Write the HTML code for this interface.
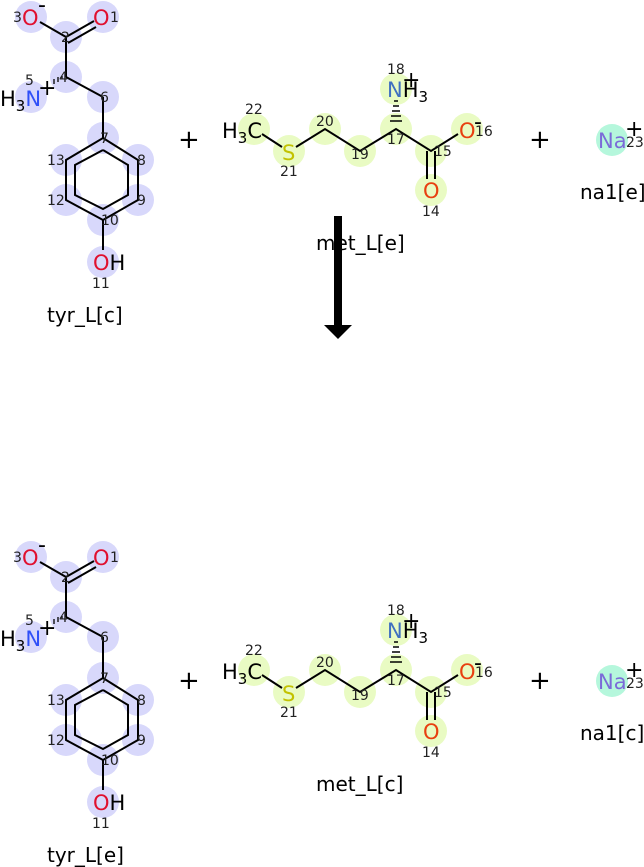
<!DOCTYPE html>
<html><head><meta charset="utf-8"><style>
html,body{margin:0;padding:0;background:#fff}
svg{display:block}
text{font-family:"DejaVu Sans","Liberation Sans",sans-serif}
</style></head><body>
<svg width="644" height="867" viewBox="0 0 644 867" xmlns="http://www.w3.org/2000/svg">
<g id="T1">
  <g fill="#d8d8fb">
    <circle cx="31" cy="17" r="16"/><circle cx="103" cy="17" r="16"/><circle cx="66" cy="37" r="16"/>
    <circle cx="66" cy="77" r="16"/><circle cx="31" cy="97" r="16"/><circle cx="103" cy="97" r="16"/>
    <circle cx="103" cy="138" r="16"/><circle cx="138" cy="160" r="16"/><circle cx="138" cy="200" r="16"/>
    <circle cx="103" cy="220" r="16"/><circle cx="66" cy="200" r="16"/><circle cx="66" cy="160" r="16"/>
    <circle cx="103" cy="262" r="16"/>
  </g>
  <g stroke="#000" stroke-width="2" fill="none">
    <line x1="40" y1="22" x2="66" y2="37"/>
    <line x1="66" y1="37" x2="94" y2="21"/><line x1="68" y1="43" x2="96" y2="27"/>
    <line x1="66" y1="37" x2="66" y2="77"/>
    <line x1="66" y1="77" x2="103" y2="97"/>
    <line x1="103" y1="97" x2="103" y2="138"/>
    <polygon points="103,138 138,160 138,200 103,220 66,200 66,160"/>
    <polyline points="103,150 128,165 128,195 103,209 75,195 75,165 103,150"/>
    <line x1="103" y1="220" x2="103" y2="250"/>
  </g>
  <g stroke="#000" stroke-width="1.3">
    <line x1="62" y1="79" x2="62" y2="76"/><line x1="58" y1="82" x2="58" y2="77"/><line x1="54" y1="84" x2="54" y2="79"/>
  </g>
  <text font-size="21" x="22" y="25" fill="#e0102f">O</text><text font-size="21" x="93" y="25" fill="#e0102f">O</text>
  <text font-size="21" x="0" y="106" fill="#000">H<tspan font-size="15" dy="5">3</tspan><tspan fill="#3050f8" dy="-5">N</tspan></text>
  <text font-size="21" x="93" y="270" fill="#e0102f">O<tspan fill="#000">H</tspan></text>
  <text font-size="22" x="38" y="95" fill="#000">+</text>
  <text font-size="22" x="38" y="12" fill="#000">-</text>
  <g font-size="14" fill="#222">
    <text x="13" y="22">3</text><text x="110" y="22">1</text><text x="61" y="42">2</text>
    <text x="59" y="82">4</text><text x="25" y="85">5</text><text x="100" y="102">6</text>
    <text x="100" y="143">7</text><text x="137" y="165">8</text><text x="137" y="205">9</text>
    <text x="101" y="225">10</text><text x="47" y="205">12</text><text x="47" y="165">13</text>
    <text x="92" y="288">11</text>
  </g>
</g>
<g id="M1">
  <g fill="#e9fbc3">
    <circle cx="254" cy="129" r="16"/><circle cx="289" cy="151" r="16"/><circle cx="325" cy="129" r="16"/>
    <circle cx="360" cy="151" r="16"/><circle cx="396" cy="129" r="16"/><circle cx="396" cy="89" r="16"/>
    <circle cx="431" cy="151" r="16"/><circle cx="467" cy="129" r="16"/><circle cx="431" cy="190" r="16"/>
  </g>
  <g stroke="#000" stroke-width="2" fill="none">
    <polyline points="262,134 282,147"/><polyline points="296,147 325,129 360,151 396,129 431,151 458,134"/>
    <line x1="427" y1="151" x2="427" y2="179"/><line x1="435" y1="151" x2="435" y2="179"/>
  </g>
  <g stroke="#000" stroke-width="1.5">
    <line x1="394" y1="101" x2="398" y2="101"/><line x1="393" y1="106" x2="399" y2="106"/>
    <line x1="392" y1="111" x2="400" y2="111"/><line x1="391" y1="116" x2="401" y2="116"/>
    <line x1="390" y1="121" x2="402" y2="121"/>
  </g>
  <text font-size="21" x="222" y="138" fill="#000">H<tspan font-size="15" dy="5">3</tspan><tspan dy="-5">C</tspan></text>
  <text font-size="21" x="282" y="160" fill="#c2c200">S</text>
  <text font-size="21" x="387" y="97" fill="#4070c0">N<tspan fill="#000">H</tspan><tspan fill="#000" font-size="15" dy="5">3</tspan></text>
  <text font-size="22" x="402" y="87" fill="#000">+</text>
  <text font-size="21" x="459" y="138" fill="#e84010">O</text>
  <text font-size="21" x="423" y="198" fill="#e84010">O</text>
  <text font-size="22" x="474" y="129" fill="#000">-</text>
  <g font-size="14" fill="#222">
    <text x="245" y="114">22</text><text x="280" y="176">21</text><text x="316" y="126">20</text>
    <text x="351" y="159">19</text><text x="387" y="144">17</text><text x="387" y="74">18</text>
    <text x="434" y="156">15</text><text x="475" y="136">16</text><text x="422" y="216">14</text>
  </g>
  <circle cx="612" cy="140" r="16" fill="#b5f7dc"/>
  <text font-size="21" x="598" y="148" fill="#7b6bd8">Na</text>
  <text font-size="22" x="625" y="136" fill="#000">+</text>
  <text font-size="14" x="626" y="147" fill="#222">23</text>
  <text font-size="26" x="178" y="148" fill="#000">+</text>
  <text font-size="26" x="529" y="148" fill="#000">+</text>
</g>
<g transform="translate(0,540)">
  <g fill="#d8d8fb">
    <circle cx="31" cy="17" r="16"/><circle cx="103" cy="17" r="16"/><circle cx="66" cy="37" r="16"/>
    <circle cx="66" cy="77" r="16"/><circle cx="31" cy="97" r="16"/><circle cx="103" cy="97" r="16"/>
    <circle cx="103" cy="138" r="16"/><circle cx="138" cy="160" r="16"/><circle cx="138" cy="200" r="16"/>
    <circle cx="103" cy="220" r="16"/><circle cx="66" cy="200" r="16"/><circle cx="66" cy="160" r="16"/>
    <circle cx="103" cy="262" r="16"/>
  </g>
  <g stroke="#000" stroke-width="2" fill="none">
    <line x1="40" y1="22" x2="66" y2="37"/>
    <line x1="66" y1="37" x2="94" y2="21"/><line x1="68" y1="43" x2="96" y2="27"/>
    <line x1="66" y1="37" x2="66" y2="77"/>
    <line x1="66" y1="77" x2="103" y2="97"/>
    <line x1="103" y1="97" x2="103" y2="138"/>
    <polygon points="103,138 138,160 138,200 103,220 66,200 66,160"/>
    <polyline points="103,150 128,165 128,195 103,209 75,195 75,165 103,150"/>
    <line x1="103" y1="220" x2="103" y2="250"/>
  </g>
  <g stroke="#000" stroke-width="1.3">
    <line x1="62" y1="79" x2="62" y2="76"/><line x1="58" y1="82" x2="58" y2="77"/><line x1="54" y1="84" x2="54" y2="79"/>
  </g>
  <text font-size="21" x="22" y="25" fill="#e0102f">O</text><text font-size="21" x="93" y="25" fill="#e0102f">O</text>
  <text font-size="21" x="0" y="106" fill="#000">H<tspan font-size="15" dy="5">3</tspan><tspan fill="#3050f8" dy="-5">N</tspan></text>
  <text font-size="21" x="93" y="270" fill="#e0102f">O<tspan fill="#000">H</tspan></text>
  <text font-size="22" x="38" y="95" fill="#000">+</text>
  <text font-size="22" x="38" y="12" fill="#000">-</text>
  <g font-size="14" fill="#222">
    <text x="13" y="22">3</text><text x="110" y="22">1</text><text x="61" y="42">2</text>
    <text x="59" y="82">4</text><text x="25" y="85">5</text><text x="100" y="102">6</text>
    <text x="100" y="143">7</text><text x="137" y="165">8</text><text x="137" y="205">9</text>
    <text x="101" y="225">10</text><text x="47" y="205">12</text><text x="47" y="165">13</text>
    <text x="92" y="288">11</text>
  </g>
</g>
<g transform="translate(0,541)">
  <g fill="#e9fbc3">
    <circle cx="254" cy="129" r="16"/><circle cx="289" cy="151" r="16"/><circle cx="325" cy="129" r="16"/>
    <circle cx="360" cy="151" r="16"/><circle cx="396" cy="129" r="16"/><circle cx="396" cy="89" r="16"/>
    <circle cx="431" cy="151" r="16"/><circle cx="467" cy="129" r="16"/><circle cx="431" cy="190" r="16"/>
  </g>
  <g stroke="#000" stroke-width="2" fill="none">
    <polyline points="262,134 282,147"/><polyline points="296,147 325,129 360,151 396,129 431,151 458,134"/>
    <line x1="427" y1="151" x2="427" y2="179"/><line x1="435" y1="151" x2="435" y2="179"/>
  </g>
  <g stroke="#000" stroke-width="1.5">
    <line x1="394" y1="101" x2="398" y2="101"/><line x1="393" y1="106" x2="399" y2="106"/>
    <line x1="392" y1="111" x2="400" y2="111"/><line x1="391" y1="116" x2="401" y2="116"/>
    <line x1="390" y1="121" x2="402" y2="121"/>
  </g>
  <text font-size="21" x="222" y="138" fill="#000">H<tspan font-size="15" dy="5">3</tspan><tspan dy="-5">C</tspan></text>
  <text font-size="21" x="282" y="160" fill="#c2c200">S</text>
  <text font-size="21" x="387" y="97" fill="#4070c0">N<tspan fill="#000">H</tspan><tspan fill="#000" font-size="15" dy="5">3</tspan></text>
  <text font-size="22" x="402" y="87" fill="#000">+</text>
  <text font-size="21" x="459" y="138" fill="#e84010">O</text>
  <text font-size="21" x="423" y="198" fill="#e84010">O</text>
  <text font-size="22" x="474" y="129" fill="#000">-</text>
  <g font-size="14" fill="#222">
    <text x="245" y="114">22</text><text x="280" y="176">21</text><text x="316" y="126">20</text>
    <text x="351" y="159">19</text><text x="387" y="144">17</text><text x="387" y="74">18</text>
    <text x="434" y="156">15</text><text x="475" y="136">16</text><text x="422" y="216">14</text>
  </g>
  <circle cx="612" cy="140" r="16" fill="#b5f7dc"/>
  <text font-size="21" x="598" y="148" fill="#7b6bd8">Na</text>
  <text font-size="22" x="625" y="136" fill="#000">+</text>
  <text font-size="14" x="626" y="147" fill="#222">23</text>
  <text font-size="26" x="178" y="148" fill="#000">+</text>
  <text font-size="26" x="529" y="148" fill="#000">+</text>
</g>
<g font-size="20" fill="#000">
  <text x="47" y="322">tyr_L[c]</text>
  <text x="316" y="250">met_L[e]</text>
  <text x="580" y="199">na1[e]</text>
  <text x="47" y="862">tyr_L[e]</text>
  <text x="316" y="791">met_L[c]</text>
  <text x="580" y="740">na1[c]</text>
</g>
<rect x="334" y="216" width="8" height="110" fill="#000"/>
<polygon points="324,325 352,325 338,339" fill="#000"/>
</svg>
</body></html>
